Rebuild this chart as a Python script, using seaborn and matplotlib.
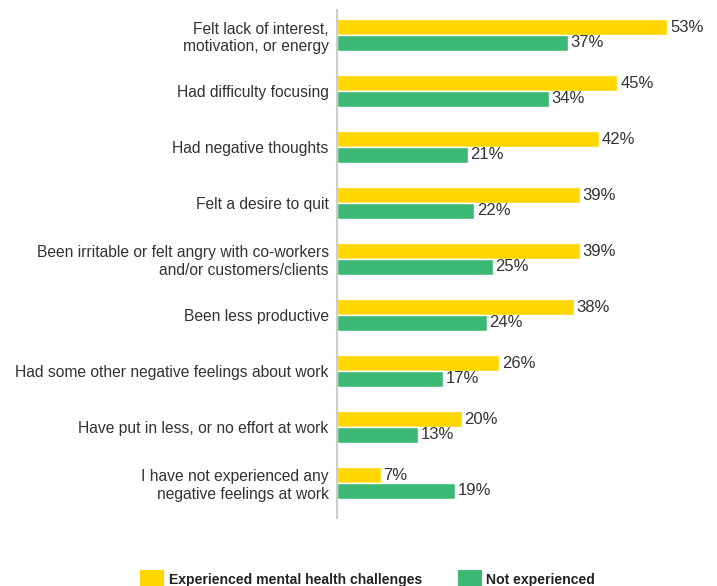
import numpy as np
import pandas as pd
import matplotlib.pyplot as plt
import seaborn as sns
from matplotlib.patches import Patch

sns.set_style("white")
plt.rcParams['font.family'] = ['Liberation Sans', 'DejaVu Sans']

categories = [
    "Felt lack of interest,\nmotivation, or energy",
    "Had difficulty focusing",
    "Had negative thoughts",
    "Felt a desire to quit",
    "Been irritable or felt angry with co-workers\nand/or customers/clients",
    "Been less productive",
    "Had some other negative feelings about work",
    "Have put in less, or no effort at work",
    "I have not experienced any\nnegative feelings at work",
]
experienced = [53, 45, 42, 39, 39, 38, 26, 20, 7]
not_experienced = [37, 34, 21, 22, 25, 24, 17, 13, 19]
groups = ["Experienced mental health challenges", "Not experienced"]
colors = ["#FFD700", "#3BB873"]

df = pd.DataFrame({
    "item": categories * 2,
    "pct": experienced + not_experienced,
    "group": [groups[0]] * len(categories) + [groups[1]] * len(categories),
})

fig = plt.figure(figsize=(7.17, 5.86), dpi=100)
ax = fig.add_axes([337 / 717, 1 - 518 / 586, 1 - 337 / 717, 508 / 586])

sns.barplot(data=df, y="item", x="pct", hue="group", palette=colors,
            width=0.57, orient="h", ax=ax, legend=False, saturation=1)

for cont in ax.containers:
    ax.bar_label(cont, fmt="%d%%", padding=2, fontsize=12, color="#333333")

ax.set_xlim(0, 380 / 6.23)
ax.set_ylim(8 + 35 / 56, -25 / 56)
ax.set_xlabel("")
ax.set_ylabel("")
ax.set_xticks([])
ax.tick_params(axis="y", length=0, pad=6, labelsize=11.25, labelcolor="#333333")
for lbl in ax.get_yticklabels():
    lbl.set_horizontalalignment("right")
    lbl.set_multialignment("right")

for s in ["top", "right", "bottom"]:
    ax.spines[s].set_visible(False)
ax.spines["left"].set_color("#cccccc")
ax.spines["left"].set_linewidth(1.5)

handles = [Patch(facecolor=c, edgecolor="none") for c in colors]
leg = fig.legend(handles, groups, loc="center", bbox_to_anchor=(0.513, 0.012),
                 ncol=2, frameon=False, handlelength=1.7, handleheight=1.5,
                 handletextpad=0.3, columnspacing=2.6,
                 prop={"weight": "bold", "size": 10.1})
for t in leg.get_texts():
    t.set_color("#222222")

fig.savefig("out.png", dpi=100)
